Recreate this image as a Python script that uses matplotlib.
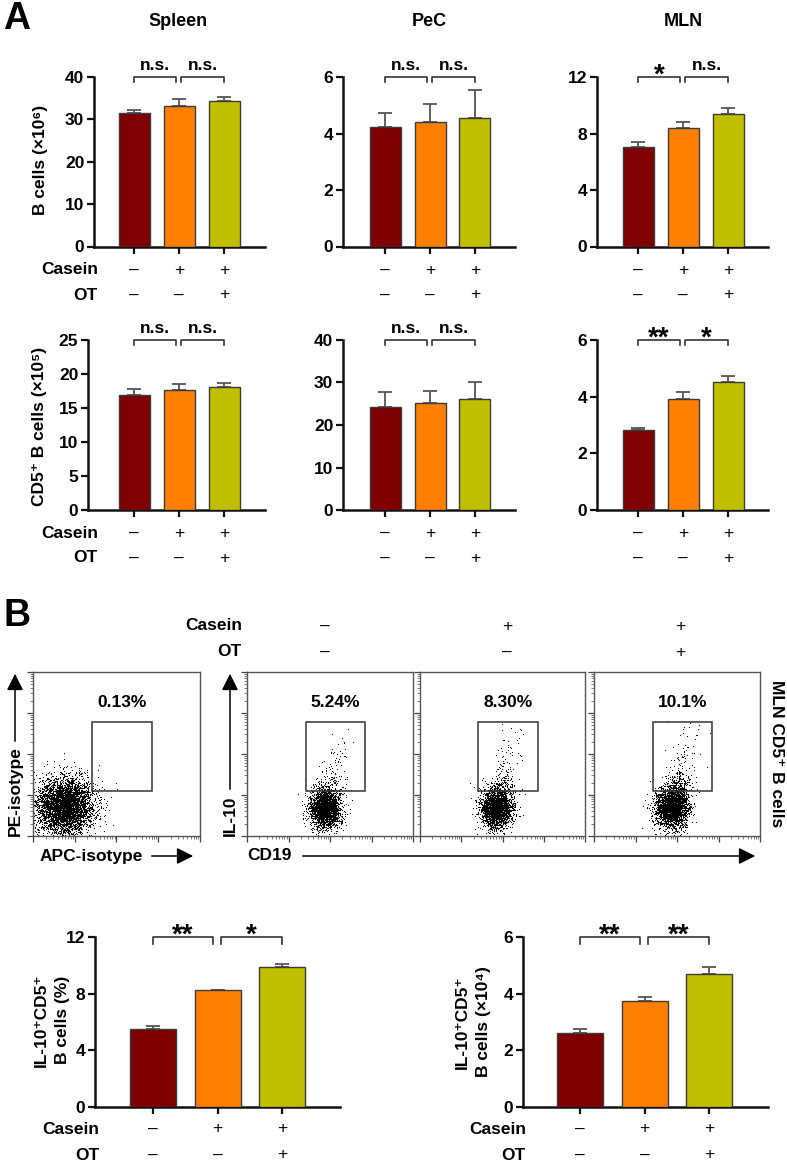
import numpy as np
import matplotlib
matplotlib.use("Agg")
import matplotlib.pyplot as plt
from matplotlib.patches import Rectangle, FancyArrowPatch
from matplotlib.transforms import blended_transform_factory

plt.rcParams['font.family'] = ['Liberation Sans', 'DejaVu Sans']
plt.rcParams['font.weight'] = 'bold'

# ---------------- data ----------------
casein_signs = ['\u2013', '+', '+']
ot_signs = ['\u2013', '\u2013', '+']
bar_colors = ['#7F0000', '#FF8000', '#C0C000']

spleen_b = [31.4, 33.1, 34.4]
spleen_b_err = [0.8, 1.6, 0.9]
pec_b = [4.24, 4.41, 4.55]
pec_b_err = [0.47, 0.62, 1.0]
mln_b = [7.06, 8.42, 9.41]
mln_b_err = [0.35, 0.4, 0.43]

spleen_cd5 = [16.9, 17.65, 18.14]
spleen_cd5_err = [0.93, 0.88, 0.5]
pec_cd5 = [24.3, 25.25, 26.04]
pec_cd5_err = [3.45, 2.8, 4.0]
mln_cd5 = [2.84, 3.93, 4.52]
mln_cd5_err = [0.06, 0.22, 0.22]

il10_pct = [5.48, 8.25, 9.88]
il10_pct_err = [0.26, 0.04, 0.21]
il10_num = [2.60, 3.75, 4.70]
il10_num_err = [0.14, 0.15, 0.24]

sig_spleen_b = ['n.s.', 'n.s.']
sig_pec_b = ['n.s.', 'n.s.']
sig_mln_b = ['*', 'n.s.']
sig_spleen_cd5 = ['n.s.', 'n.s.']
sig_pec_cd5 = ['n.s.', 'n.s.']
sig_mln_cd5 = ['**', '*']
sig_il10_pct = ['**', '*']
sig_il10_num = ['**', '**']

flow_pct_labels = ['0.13%', '5.24%', '8.30%', '10.1%']

# ---------------- layout helpers ----------------
W, H = 787, 1163
fig = plt.figure(figsize=(W / 100, H / 100), dpi=100)
fig.patch.set_facecolor('white')


def fx(x):
    return x / W


def fy(y):
    return 1 - y / H


def px_axes(left, top, right, bottom):
    return fig.add_axes([left / W, 1 - bottom / H, (right - left) / W, (bottom - top) / H])


def ftext(x, y, s, **kw):
    return fig.text(fx(x), fy(y), s, **kw)


TICK_FS = 12.5
SIGN_FS = 12.5
STAR_FS = 20


def bar_panel(box, tick0, spacing, barw, vals, errs, ymax, yticks, sigs,
              sign_rows, bracket_h=5):
    left, top, right, bottom = box
    ax = px_axes(left, top, right, bottom)
    xs = np.arange(len(vals))
    ax.bar(xs, vals, width=barw / spacing, color=bar_colors,
           edgecolor='#3c3c3c', linewidth=1.0, zorder=3)
    ax.errorbar(xs, vals, yerr=[np.zeros(len(errs)), errs], fmt='none',
                ecolor='#555555', elinewidth=1.3, capsize=5, capthick=1.3, zorder=2)
    ax.set_xlim((left - tick0) / spacing, (right - tick0) / spacing)
    ax.set_ylim(0, ymax)
    ax.set_yticks(yticks)
    ax.set_yticklabels([str(t) for t in yticks], fontsize=TICK_FS, fontweight='bold')
    ax.set_xticks(xs)
    ax.set_xticklabels([])
    for s in ['top', 'right']:
        ax.spines[s].set_visible(False)
    for s in ['left', 'bottom']:
        ax.spines[s].set_linewidth(1.8)
        ax.spines[s].set_color('#111111')
    ax.tick_params(axis='both', direction='out', length=5, width=1.6, color='#111111', pad=2)
    ax.patch.set_alpha(0)
    # significance brackets
    unit = ymax / (bottom - top)
    yb = ymax
    ends = [(0.0, 0.93), (1.05, 2.0)]
    for (a, b), s in zip(ends, sigs):
        ax.plot([a, a, b, b], [yb - bracket_h * unit, yb, yb, yb - bracket_h * unit],
                color='#333333', lw=1.2, clip_on=False, zorder=4)
        if s.startswith('*'):
            ax.text((a + b) / 2, yb - 6 * unit, s, ha='center', va='baseline',
                    fontsize=STAR_FS, fontweight='bold')
        else:
            ax.text((a + b) / 2, yb + 4 * unit, s, ha='center', va='bottom',
                    fontsize=TICK_FS, fontweight='bold')
    # +/- rows under axis
    tr = blended_transform_factory(ax.transData, fig.transFigure)
    for ypix, signs in sign_rows:
        for i, sg in enumerate(signs):
            ax.text(xs[i], fy(ypix), sg, transform=tr, ha='center', va='center',
                    fontsize=SIGN_FS, fontweight='normal')
    return ax


# ---------------- Panel A ----------------
ftext(3, 1, 'A', fontsize=27, fontweight='bold', va='top', ha='left')
for x, t in [(178, 'Spleen'), (429, 'PeC'), (683, 'MLN')]:
    ftext(x, 22, t, fontsize=13, fontweight='bold', ha='center', va='center')

row1 = dict(top=77, bottom=246.5)
row2 = dict(top=340, bottom=510)
cols = [(94, 265, 134), (343, 515, 385), (597, 768, 638)]
cols2 = [(88, 265, 134), (343, 515, 385), (597, 768, 638)]

r1_signs = [(270, casein_signs), (295, ot_signs)]
r2_signs = [(533, casein_signs), (558, ot_signs)]

bar_panel((cols[0][0], row1['top'], cols[0][1], row1['bottom']), cols[0][2], 45, 31,
          spleen_b, spleen_b_err, 40, [0, 10, 20, 30, 40], sig_spleen_b, r1_signs)
bar_panel((cols[1][0], row1['top'], cols[1][1], row1['bottom']), cols[1][2], 45, 31,
          pec_b, pec_b_err, 6, [0, 2, 4, 6], sig_pec_b, r1_signs)
bar_panel((cols[2][0], row1['top'], cols[2][1], row1['bottom']), cols[2][2], 45, 31,
          mln_b, mln_b_err, 12, [0, 4, 8, 12], sig_mln_b, r1_signs)

bar_panel((cols2[0][0], row2['top'], cols2[0][1], row2['bottom']), cols2[0][2], 45, 31,
          spleen_cd5, spleen_cd5_err, 25, [0, 5, 10, 15, 20, 25], sig_spleen_cd5, r2_signs)
bar_panel((cols2[1][0], row2['top'], cols2[1][1], row2['bottom']), cols2[1][2], 45, 31,
          pec_cd5, pec_cd5_err, 40, [0, 10, 20, 30, 40], sig_pec_cd5, r2_signs)
bar_panel((cols2[2][0], row2['top'], cols2[2][1], row2['bottom']), cols2[2][2], 45, 31,
          mln_cd5, mln_cd5_err, 6, [0, 2, 4, 6], sig_mln_cd5, r2_signs)

for y in (270, 533):
    ftext(98, y, 'Casein', ha='right', va='center', fontsize=TICK_FS)
for y in (295, 558):
    ftext(98, y, 'OT', ha='right', va='center', fontsize=TICK_FS)

ftext(40, 160, 'B cells (\u00d710\u2076)', rotation=90, ha='center', va='center', fontsize=TICK_FS)
ftext(40, 426, 'CD5\u207a B cells (\u00d710\u2075)', rotation=90, ha='center', va='center', fontsize=TICK_FS)

# ---------------- Panel B : flow plots ----------------
ftext(3, 598, 'B', fontsize=27, fontweight='bold', va='top', ha='left')
ftext(242, 626, 'Casein', ha='right', va='center', fontsize=TICK_FS)
ftext(242, 652, 'OT', ha='right', va='center', fontsize=TICK_FS)
flow_cols_x = [325, 507, 680]
for x, c, o in zip(flow_cols_x, casein_signs, ot_signs):
    ftext(x, 626, c, ha='center', va='center', fontsize=SIGN_FS, fontweight='normal')
    ftext(x, 652, o, ha='center', va='center', fontsize=SIGN_FS, fontweight='normal')

flow_boxes = [(33, 672, 200, 836), (247, 672, 413, 836), (420, 672, 585, 836), (594, 672, 760, 836)]
# event-cloud descriptors (log10 units): centre x, centre y, sd x, sd y, n events, n upper-tail events
cloud_cx = [0.75, 1.88, 1.85, 1.88]
cloud_cy = [0.72, 0.68, 0.68, 0.70]
cloud_sx = [0.34, 0.19, 0.19, 0.20]
cloud_sy = [0.34, 0.24, 0.24, 0.25]
cloud_n = [4500, 2300, 2300, 2500]
cloud_tail = [0, 150, 230, 300]

rng = np.random.default_rng(11)
gate_x = (10 ** 1.41, 10 ** 2.85)
gate_y = (10 ** 1.10, 10 ** 2.78)

for k, box in enumerate(flow_boxes):
    ax = px_axes(*box)
    x = rng.normal(cloud_cx[k], cloud_sx[k], cloud_n[k])
    y = rng.normal(cloud_cy[k], cloud_sy[k], cloud_n[k])
    if cloud_tail[k]:
        t = rng.exponential(0.45, cloud_tail[k])
        t = t[t < 1.75]
        ty = cloud_cy[k] + 0.3 + t + rng.normal(0, 0.05, t.size)
        tx = cloud_cx[k] + 0.1 + 0.2 * t + rng.normal(0, 0.17, t.size)
        x = np.concatenate([x, tx])
        y = np.concatenate([y, ty])
    x = np.clip(x, 0.01, 3.99)
    y = np.clip(y, 0.01, 3.99)
    ax.scatter(10 ** x, 10 ** y, s=0.7, marker='o', color='black', linewidths=0, zorder=2)
    ax.set_xscale('log')
    ax.set_yscale('log')
    ax.set_xlim(1, 1e4)
    ax.set_ylim(1, 1e4)
    ax.xaxis.set_major_locator(matplotlib.ticker.LogLocator(base=10, numticks=10))
    ax.yaxis.set_major_locator(matplotlib.ticker.LogLocator(base=10, numticks=10))
    ax.xaxis.set_minor_locator(matplotlib.ticker.LogLocator(base=10, subs=np.arange(2, 10), numticks=50))
    ax.yaxis.set_minor_locator(matplotlib.ticker.LogLocator(base=10, subs=np.arange(2, 10), numticks=50))
    ax.tick_params(which='major', direction='out', length=4, width=0.9, color='#444444',
                   labelbottom=False, labelleft=False)
    ax.tick_params(which='minor', direction='out', length=2, width=0.6, color='#666666')
    for s in ax.spines.values():
        s.set_linewidth(1.0)
        s.set_color('#555555')
    ax.add_patch(Rectangle((gate_x[0], gate_y[0]), gate_x[1] - gate_x[0], gate_y[1] - gate_y[0],
                           fill=False, edgecolor='#333333', lw=1.1, zorder=3))
    ax.text(np.sqrt(gate_x[0] * gate_x[1]), 10 ** 3.25, flow_pct_labels[k],
            ha='center', va='center', fontsize=TICK_FS, fontweight='bold')


def farrow(x0, y0, x1, y1):
    a = FancyArrowPatch((fx(x0), fy(y0)), (fx(x1), fy(y1)), transform=fig.transFigure,
                        arrowstyle='-|>,head_length=1.0,head_width=0.5', mutation_scale=10,
                        lw=1.1, color='black')
    fig.add_artist(a)


ftext(15, 836, 'PE-isotype', rotation=90, ha='center', va='bottom', fontsize=TICK_FS)
farrow(15, 744, 15, 671)
ftext(230, 836, 'IL-10', rotation=90, ha='center', va='bottom', fontsize=TICK_FS)
farrow(230, 792, 230, 671)
ftext(40, 856, 'APC-isotype', ha='left', va='center', fontsize=TICK_FS)
farrow(149, 856, 196, 856)
ftext(247, 856, 'CD19', ha='left', va='center', fontsize=TICK_FS)
farrow(300, 856, 758, 856)
ftext(776, 754, 'MLN CD5\u207a B cells', rotation=-90, ha='center', va='center', fontsize=TICK_FS)

# ---------------- Panel B : bar charts ----------------
b_signs = [(1129, casein_signs), (1155, ot_signs)]
bar_panel((95, 937, 340, 1107), 153, 64.5, 46, il10_pct, il10_pct_err, 12, [0, 4, 8, 12],
          sig_il10_pct, b_signs, bracket_h=7)
bar_panel((523, 937, 768, 1107), 580, 64.5, 46, il10_num, il10_num_err, 6, [0, 2, 4, 6],
          sig_il10_num, b_signs, bracket_h=7)
for x in (99, 526):
    ftext(x, 1129, 'Casein', ha='right', va='center', fontsize=TICK_FS)
    ftext(x, 1155, 'OT', ha='right', va='center', fontsize=TICK_FS)

ftext(41, 1020, 'IL-10\u207aCD5\u207a', rotation=90, ha='center', va='center', fontsize=TICK_FS)
ftext(63, 1020, 'B cells (%)', rotation=90, ha='center', va='center', fontsize=TICK_FS)
ftext(462, 1022, 'IL-10\u207aCD5\u207a', rotation=90, ha='center', va='center', fontsize=TICK_FS)
ftext(484, 1022, 'B cells (\u00d710\u2074)', rotation=90, ha='center', va='center', fontsize=TICK_FS)

fig.savefig('out.png', dpi=100, facecolor='white')
